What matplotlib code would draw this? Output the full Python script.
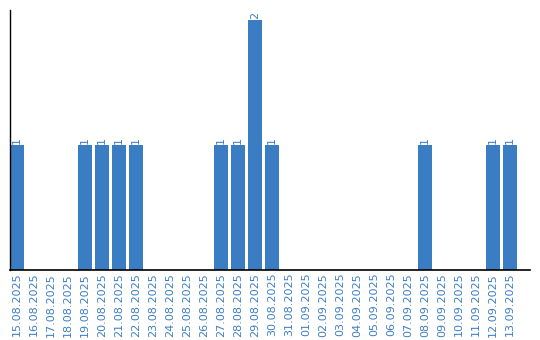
import matplotlib
matplotlib.use("Agg")
import matplotlib.pyplot as plt
import numpy as np

dates = ["15.08.2025", "16.08.2025", "17.08.2025", "18.08.2025", "19.08.2025",
         "20.08.2025", "21.08.2025", "22.08.2025", "23.08.2025", "24.08.2025",
         "25.08.2025", "26.08.2025", "27.08.2025", "28.08.2025", "29.08.2025",
         "30.08.2025", "31.08.2025", "01.09.2025", "02.09.2025", "03.09.2025",
         "04.09.2025", "05.09.2025", "06.09.2025", "07.09.2025", "08.09.2025",
         "09.09.2025", "10.09.2025", "11.09.2025", "12.09.2025", "13.09.2025"]
counts = [1, 0, 0, 0, 1, 1, 1, 1, 0, 0, 0, 0, 1, 1, 2, 1,
          0, 0, 0, 0, 0, 0, 0, 0, 1, 0, 0, 0, 1, 1]

bar_color = "#3b7dc2"
text_color = "#3d7fc4"

fig = plt.figure(figsize=(5.4, 3.4), dpi=100)
ax = fig.add_axes([10/540, 70/340, 520/540, 260/340])

x = np.arange(len(dates))
bw = 14/17
ax.bar(x + bw/2, counts, width=bw, color=bar_color, align="center")

for xi, c in zip(x, counts):
    if c > 0:
        ax.text(xi + bw/2, c + 0.01, str(c), rotation=90, ha="center", va="bottom",
                fontsize=8, color=text_color)

ax.set_xticks(x + bw/2)
ax.set_xticklabels(dates, rotation=90, fontsize=8, color=text_color)
ax.tick_params(axis="x", length=0, pad=2)
ax.set_yticks([])
ax.set_xlim(0, 520/17)
ax.set_ylim(0, 260/125)
for s in ["top", "right"]:
    ax.spines[s].set_visible(False)
ax.spines["left"].set_linewidth(1)
ax.spines["bottom"].set_linewidth(1.2)

fig.savefig("out.png", dpi=100)
